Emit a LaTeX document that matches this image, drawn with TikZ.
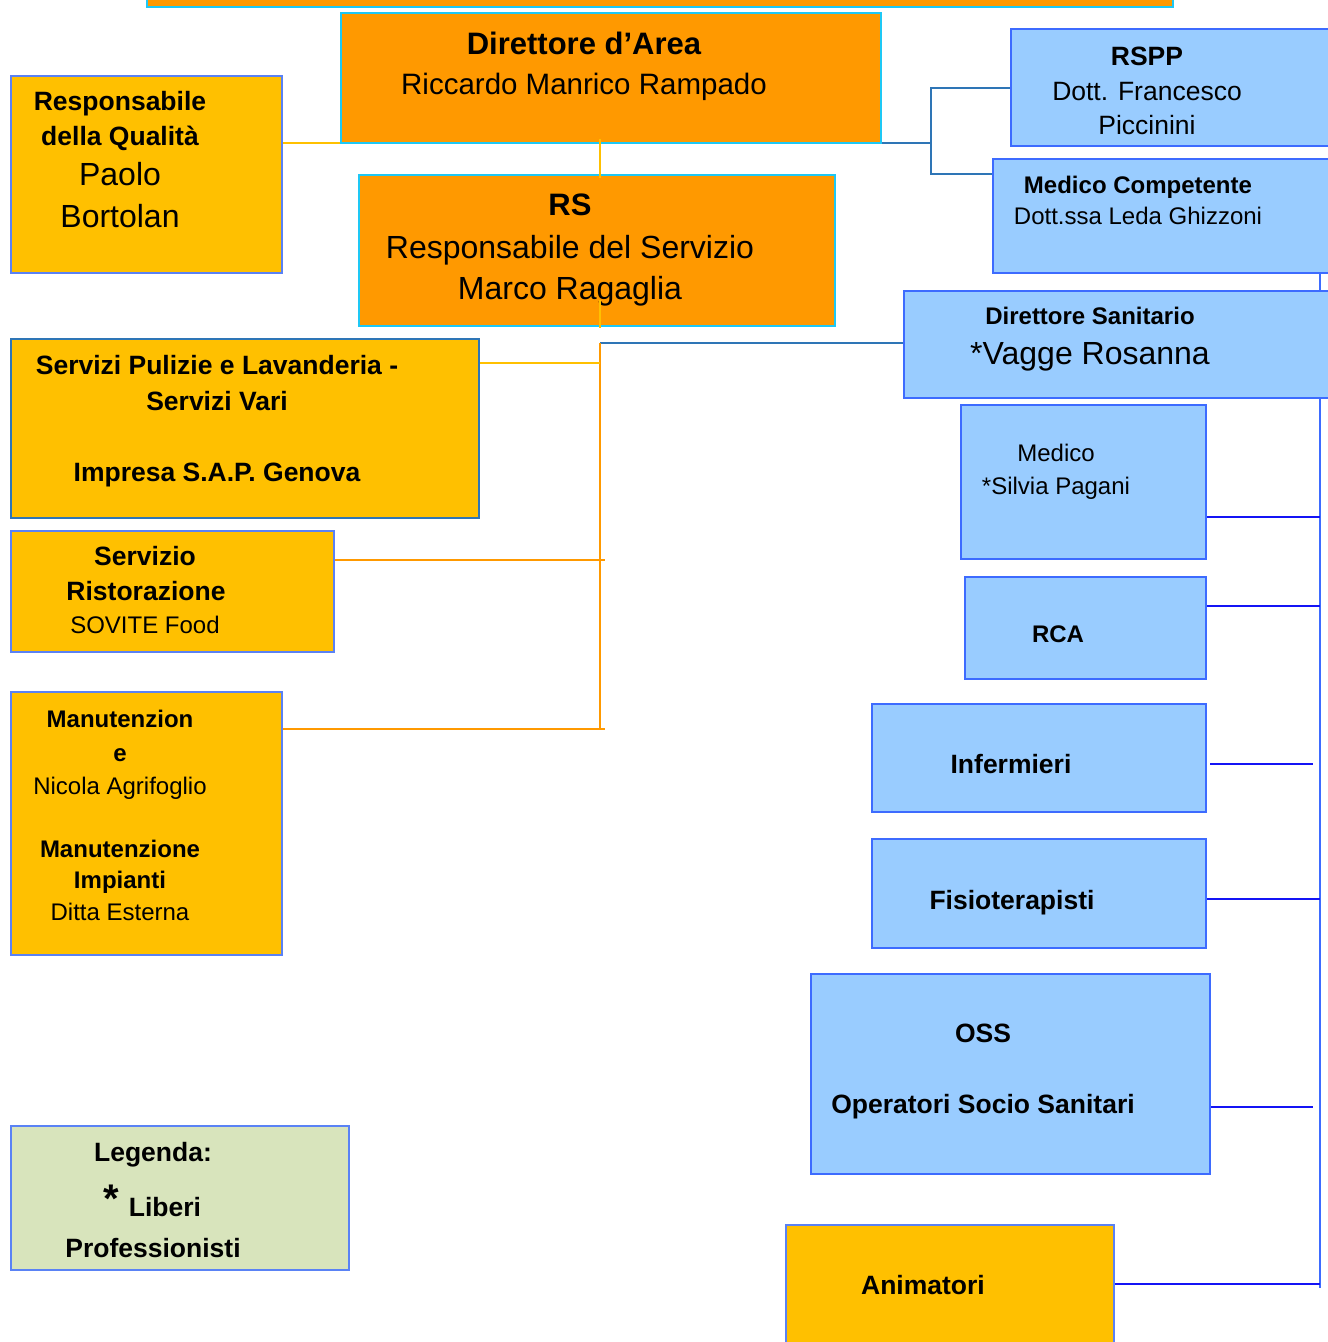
\documentclass[tikz,border=0pt]{standalone}
\usepackage{fontspec}
\setmainfont{Liberation Sans}
\usetikzlibrary{backgrounds}
\definecolor{orng}{HTML}{FF9900}
\definecolor{ylw}{HTML}{FFC000}
\definecolor{lblue}{HTML}{99CCFF}
\definecolor{cyanb}{HTML}{1EC8F5}
\definecolor{bbord}{HTML}{3D6BFF}
\definecolor{dblue}{HTML}{2E75B6}
\definecolor{pblue}{HTML}{1414F5}
\definecolor{lgreen}{HTML}{D8E4BC}
\definecolor{thinb}{HTML}{5A82F5}
\newcommand{\fsz}[1]{\fontsize{#1}{#1}\selectfont}
\tikzset{
  box/.style={rectangle, anchor=north west, inner sep=0pt, outer sep=0pt},
  obox/.style={box, fill=orng, draw=cyanb, line width=2.5pt},
  ybox/.style={box, fill=ylw, draw=thinb, line width=1.2pt},
  bbox/.style={box, fill=lblue, draw=bbord, line width=2.5pt},
  gbox/.style={box, fill=lgreen, draw=thinb, line width=1.2pt},
  tx/.style={anchor=base, inner sep=0pt, outer sep=0pt, text=black},
  rA/.style={tx, font=\fsz{24}},
  rB/.style={tx, font=\fsz{26.5}},
  rC/.style={tx, font=\fsz{29.5}},
  rD/.style={tx, font=\fsz{32}},
  bA/.style={tx, font=\fsz{24}\bfseries},
  bB/.style={tx, font=\fsz{26.5}\bfseries},
  bC/.style={tx, font=\fsz{31}\bfseries},
  bD/.style={tx, font=\fsz{40}\bfseries},
  ylwline/.style={draw=ylw, line width=1.5pt},
  orline/.style={draw=orng, line width=2pt},
  dbline/.style={draw=dblue, line width=2pt},
  spline/.style={draw=bbord, line width=2.5pt},
  pbline/.style={draw=pblue, line width=2pt},
}
\begin{document}
\begin{tikzpicture}[x=1pt, y=-1pt]
\useasboundingbox (0,0) rectangle (1328,1342);
\clip (0,0) rectangle (1328,1342);

% boxes
\node[obox, minimum width=1026pt, minimum height=37pt] (top) at (147,-30) {};
\node[obox, minimum width=540pt, minimum height=130pt] (dir) at (341,13) {};
\node[ybox, minimum width=271pt, minimum height=197pt] (qa) at (11,76) {};
\node[obox, minimum width=476pt, minimum height=151pt] (rs) at (359,175) {};
\node[bbox, minimum width=340pt, minimum height=117pt] (rspp) at (1011,29) {};
\node[bbox, minimum width=360pt, minimum height=114pt] (mc) at (993,159) {};
\node[bbox, minimum width=450pt, minimum height=107pt] (ds) at (904,291) {};
\node[bbox, minimum width=245pt, minimum height=154pt] (med) at (961,405) {};
\node[bbox, minimum width=241pt, minimum height=102pt] (rca) at (965,577) {};
\node[bbox, minimum width=334pt, minimum height=108pt] (inf) at (872,704) {};
\node[bbox, minimum width=334pt, minimum height=109pt] (fis) at (872,839) {};
\node[bbox, line width=1.2pt, minimum width=399pt, minimum height=200pt] (oss) at (811,974) {};
\node[ybox, minimum width=328pt, minimum height=140pt] (ani) at (786,1225) {};
\node[ybox, draw=dblue, line width=2.5pt, minimum width=468pt, minimum height=179pt] (sp) at (11,339) {};
\node[ybox, minimum width=323pt, minimum height=121pt] (ris) at (11,531) {};
\node[ybox, minimum width=271pt, minimum height=263pt] (man) at (11,692) {};
\node[gbox, minimum width=338pt, minimum height=144pt] (leg) at (11,1126) {};

% texts
\node[bC] (dirA) at (584,54) {Direttore d’Area};
\node[rC] (dirB) at (584,94) {Riccardo Manrico Rampado};
\node[bB] (qaA) at (120,110) {Responsabile};
\node[bB] (qaB) at (120,145) {della Qualità};
\node[rD] (qaC) at (120,185) {Paolo};
\node[rD] (qaD) at (120,227) {Bortolan};
\node[bC] (rsA) at (570,215) {RS};
\node[rD] (rsB) at (570,258) {Responsabile del Servizio};
\node[rD] (rsC) at (570,299) {Marco Ragaglia};
\node[bB] (rsppA) at (1147,65) {RSPP};
\node[rB] (rsppB) at (1147,100) {Dott. Francesco};
\node[rB] (rsppC) at (1147,134) {Piccinini};
\node[bA] (mcA) at (1138,193) {Medico Competente};
\node[rA] (mcB) at (1138,224) {Dott.ssa Leda Ghizzoni};
\node[bA] (dsA) at (1090,324) {Direttore Sanitario};
\node[rD] (dsB) at (1090,364) {*Vagge Rosanna};
\node[rA] (medA) at (1056,461) {Medico};
\node[rA] (medB) at (1056,494) {*Silvia Pagani};
\node[bA] (rcaA) at (1058,642) {RCA};
\node[bB] (infA) at (1011,773) {Infermieri};
\node[bB] (fisA) at (1012,909) {Fisioterapisti};
\node[bB] (ossA) at (983,1042) {OSS};
\node[bB] (ossB) at (983,1113) {Operatori Socio Sanitari};
\node[bB] (aniA) at (923,1294) {Animatori};
\node[bB] (spA) at (217,374) {Servizi Pulizie e Lavanderia -};
\node[bB] (spB) at (217,410) {Servizi Vari};
\node[bB] (spC) at (217,481) {Impresa S.A.P. Genova};
\node[bB] (risA) at (145,565) {Servizio};
\node[bB] (risB) at (146,600) {Ristorazione};
\node[rA] (risC) at (145,633) {SOVITE Food};
\node[bA] (manA) at (120,727) {Manutenzion};
\node[bA] (manB) at (120,761) {e};
\node[rA] (manC) at (120,794) {Nicola Agrifoglio};
\node[bA] (manD) at (120,857) {Manutenzione};
\node[bA] (manE) at (120,888) {Impianti};
\node[rA] (manF) at (120,920) {Ditta Esterna};
\node[bB] (legA) at (153,1161) {Legenda:};
\node[bD] (legS) at (111,1212) {*};
\node[bB] (legB) at (165,1216) {Liberi};
\node[bB] (legC) at (153,1257) {Professionisti};

% helper coordinates
\coordinate (spine) at (600,0);
\coordinate (spx) at (605,0);
\coordinate (bj) at (931,0);
\coordinate (rsp) at (1320,0);
\coordinate (rspend) at (1320,1288);
\coordinate (mcin) at ([yshift=-15pt]mc.north west);
\coordinate (spin) at ([yshift=-24pt]sp.north east);
\coordinate (risin) at ([yshift=-29pt]ris.north east);
\coordinate (manin) at ([yshift=-37pt]man.north east);
\coordinate (medin) at ([yshift=-112pt]med.north east);
\coordinate (rcain) at ([yshift=-29pt]rca.north east);
\coordinate (infin) at ([yshift=-60pt]inf.north east);
\coordinate (fisin) at ([yshift=-60pt]fis.north east);
\coordinate (ossin) at ([xshift=-4pt,yshift=-133pt]oss.north east);
\coordinate (aniin) at ([yshift=-59pt]ani.north east);
\coordinate (rsa) at ([yshift=26pt]rs.south);
\coordinate (rsb) at ([yshift=-2pt]rs.south);
\coordinate (dsl) at ([yshift=2pt]ds.west);

\begin{pgfonlayer}{background}
\draw[ylwline] (qa.east |- dir.south west) -- (dir.south west);
\draw[dbline] (dir.south east) -- (dir.south east -| bj) -- (rspp.west -| bj) -- (rspp.west);
\draw[dbline] (rspp.west -| bj) -- (mcin -| bj) -- (mcin);
\draw[dbline] (dsl) -- (dsl -| spine);
\draw[orline] (dsl -| spine) -- (manin -| spine);
\draw[ylwline] (spin) -- (spin -| spine);
\draw[orline] (risin) -- (risin -| spx);
\draw[orline] (manin) -- (manin -| spx);
\draw[spline] (mc.south -| rsp) -- (rspend);
\draw[pbline] (medin) -- (medin -| rsp);
\draw[pbline] (rcain) -- (rcain -| rsp);
\draw[pbline, shorten <=4pt, shorten >=7pt] (infin) -- (infin -| rsp);
\draw[pbline] (fisin) -- (fisin -| rsp);
\draw[pbline, shorten >=7pt] (ossin) -- (ossin -| rsp);
\draw[pbline] (aniin) -- (aniin -| rsp);
\end{pgfonlayer}

\draw[ylwline, shorten <=-4pt, shorten >=-3pt] (dir.south -| spine) -- (rs.north -| spine);
\draw[ylwline] (rsa -| spine) -- (rsb -| spine);
\end{tikzpicture}
\end{document}
